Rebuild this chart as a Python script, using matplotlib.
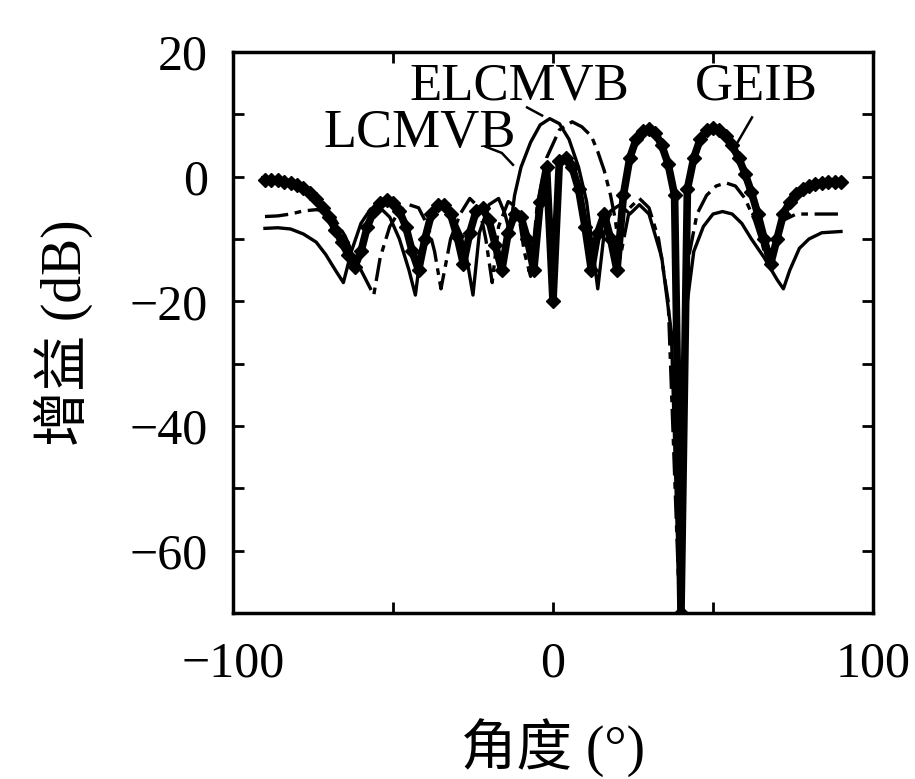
import numpy as np
import matplotlib
matplotlib.use("Agg")
import matplotlib.pyplot as plt
from matplotlib.ticker import MultipleLocator

# -----------------------------
# data
# -----------------------------
geib_angle = [-90, -88, -86, -84, -82, -80, -78, -76, -74, -72, -70, -68, -66, -64, -62,
              -60, -58, -56, -54, -52, -50, -48, -46, -44, -42, -40, -38, -36, -34, -32,
              -30, -28, -26, -24, -22, -20, -18, -16, -14, -12, -10, -8, -6, -4, -2,
              0, 2, 4, 6, 8, 10, 12, 14, 16, 18, 20, 22, 24, 26, 28,
              30, 32, 34, 36, 38, 40, 42, 44, 46, 48, 50, 52, 54, 56, 58,
              60, 62, 64, 66, 68, 70, 72, 74, 76, 78, 80, 82, 84, 86, 88, 90]
geib_gain = [-0.5, -0.5, -0.6, -0.8, -1.0, -1.3, -1.8, -2.6, -3.6, -5.0, -6.5, -8.5, -10.5, -12.5, -14.5,
             -12, -8, -5.5, -4.2, -3.8, -4.2, -5.5, -8, -12, -15, -10, -6, -4.5, -4.5, -6,
             -9.5, -14, -9, -5.5, -5, -7, -11, -15, -9, -6, -6.5, -10, -15, -4, 1.5,
             -20, 2.5, 3, 1.5, -2, -8, -15, -9, -6, -10, -15, -3, 3, 6, 7.3,
             7.6, 7, 5, 2, -3, -70, -2, 3, 6, 7.5, 7.8, 7.5, 6.5, 5, 3,
             0.5, -2.5, -6, -10, -14, -10, -6, -4, -2.8, -2, -1.5, -1.2, -1, -0.9, -0.8, -0.8]

lcmvb_angle = [-90, -86, -82, -78, -74, -71, -68, -65.5, -63, -60, -57, -54, -51, -48, -45,
               -43, -41, -38, -35, -32, -29, -27, -25, -23, -20, -17, -15, -13.5, -12, -10,
               -7, -4, -1, 2, 5, 8, 10.5, 12.5, 14, 16, 18, 21, 24, 27, 30,
               34, 37, 39.6, 42, 44, 47, 50, 53, 56, 59, 62, 66, 70, 72, 74,
               77, 80, 84, 90]
lcmvb_gain = [-8.3, -8.2, -8.4, -9.2, -10.5, -12.5, -15, -17, -12, -7.5, -5.2, -5, -6.5, -10, -15,
              -19, -11, -6, -4.5, -5.5, -9, -13, -19, -9, -4.5, -3.5, -6, -9, -3, 1.5,
              5.5, 8.3, 9.3, 8.5, 6, 1.5, -4, -12, -18, -9, -5.5, -4.5, -6, -4.5, -6,
              -13, -25, -70, -20, -12, -8, -6, -5.6, -6, -7.5, -10, -13, -16.5, -18, -15,
              -11.5, -10, -9, -8.8]

elcmvb_angle = [-90, -86, -82, -78, -74, -71, -68, -65, -62, -59, -56, -54, -51, -48, -45,
                -42, -39, -37, -35, -32, -29, -26, -23, -21, -19, -17, -14, -11, -9, -7,
                -5, -2, 2, 6, 9, 12, 14, 16, 18, 19.5, 21, 24, 27, 30, 33,
                36, 39.6, 42, 45, 48, 51, 54, 57, 60, 63, 65.5, 67, 69, 72, 76,
                80, 85, 90]
elcmvb_gain = [-6.4, -6.3, -6, -5.5, -5.3, -5.5, -7, -9.5, -13, -16, -19, -13, -8, -5.5, -4.5,
               -5, -8, -12, -18, -10, -6, -3.5, -5, -10, -17, -8, -4, -5, -12, -16,
               -5, 3, 7.5, 8.8, 8, 6.5, 4, 1, -3, -7, -13, -5, -3.5, -5, -10,
               -20, -70, -14, -6, -3, -1.5, -1, -1.5, -3.5, -7, -11, -14, -10, -7, -6,
               -6, -6, -6]

x_major = [-100, 0, 100]
x_minor = [-50, 50]
y_major = [-60, -40, -20, 0, 20]


def main():
    plt.rcParams['font.family'] = ['Liberation Serif', 'Noto Sans CJK SC']
    plt.rcParams['axes.unicode_minus'] = True

    fig = plt.figure(figsize=(9.15, 7.79), dpi=100)
    ax = fig.add_axes([0.2546, 0.2131, 0.6995, 0.7202])

    # curves
    ax.plot(lcmvb_angle, lcmvb_gain, color="black", lw=2.4, ls="-")
    ax.plot(elcmvb_angle, elcmvb_gain, color="black", lw=2.4, ls=(0, (7, 2, 2, 2)))
    ax.plot(geib_angle, geib_gain, color="black", lw=5.5, marker="D", ms=7)

    # annotations
    ax.text(-10.4, 12.4, "ELCMVB", fontsize=38, ha="center", va="baseline")
    ax.text(63.7, 12.4, "GEIB", fontsize=38, ha="center", va="baseline")
    ax.text(-41.6, 4.7, "LCMVB", fontsize=39, ha="center", va="baseline")
    ax.plot([-21, -16, -12.5], [4.8, 3.8, 1.9], color="black", lw=1.8)
    ax.plot([-8.1, -3.4], [11.1, 9.8], color="black", lw=1.8)
    ax.plot([62.2, 57.8], [9.5, 5.6], color="black", lw=1.8)

    ax.set_xlim(-100, 100)
    ax.set_ylim(-70, 20)
    ax.set_xticks(x_major)
    ax.xaxis.set_minor_locator(plt.FixedLocator(x_minor))
    ax.set_yticks(y_major)
    ax.yaxis.set_minor_locator(MultipleLocator(10))

    ax.tick_params(which="both", direction="in", length=8, width=2,
                   top=True, right=True)
    ax.tick_params(axis="x", labelsize=36, pad=20)
    ax.tick_params(axis="y", labelsize=36, pad=18)
    for s in ax.spines.values():
        s.set_linewidth(2.5)

    ax.set_xlabel("角度 (°)", fontsize=40, va="center")
    ax.xaxis.set_label_coords(0.5, -0.242)
    ax.set_ylabel("增益 (dB)", fontsize=40, va="center")
    ax.yaxis.set_label_coords(-0.265, 0.5)

    fig.savefig("out.png", dpi=100)


if __name__ == "__main__":
    main()
